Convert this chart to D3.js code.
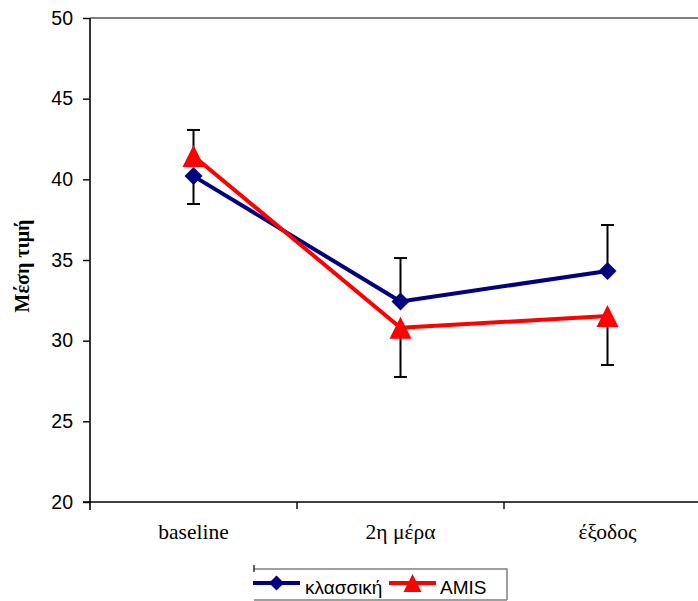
<!DOCTYPE html>
<html>
<head>
<meta charset="utf-8">
<script src="https://cdn.jsdelivr.net/npm/d3@7"></script>
<style>
  html, body { margin: 0; padding: 0; background: #fff; }
  svg { display: block; }
</style>
</head>
<body>
<svg id="chart" width="698" height="601"></svg>
<script>
// Time points and mean scores for the two groups
const categories = ["baseline", "2η μέρα", "έξοδος"];
const classicValues = [40.2, 32.43, 34.32];
const amisValues = [41.45, 30.8, 31.53];
// Error bar half-lengths (drawn away from the other group)
const classicErrors = [1.73, 2.69, 2.85];
const amisErrors = [1.61, 3.05, 3.04];
const yTicks = [20, 25, 30, 35, 40, 45, 50];
const seriesNames = ["κλασσική", "AMIS"];

const svg = d3.select("#chart");

const x = d3.scaleBand().domain(categories).range([90, 711]).padding(0);
const y = d3.scaleLinear().domain([20, 50]).range([502, 18]);

// Top frame line of the plot area
svg.append("line")
  .attr("x1", 90).attr("x2", 698)
  .attr("y1", y(50)).attr("y2", y(50))
  .attr("stroke", "#808080").attr("stroke-width", 2);

// Y axis
const yAxis = svg.append("g")
  .attr("transform", "translate(90,0)")
  .call(d3.axisLeft(y).tickValues(yTicks).tickSize(7).tickPadding(10).tickSizeOuter(0));
yAxis.select(".domain").attr("stroke", "#000").attr("stroke-width", 1.6)
  .attr("d", `M0,${y(50)}V${y(20) + 8}`);
yAxis.selectAll(".tick line").attr("stroke", "#000").attr("stroke-width", 1.4);
yAxis.selectAll(".tick text")
  .attr("font-family", "Liberation Sans, Arial, sans-serif")
  .attr("font-size", 19.5).attr("fill", "#000");

// X axis with ticks on category boundaries
const xAxis = svg.append("g")
  .attr("transform", `translate(0,${y(20)})`)
  .call(d3.axisBottom(x).tickSize(0).tickPadding(22).tickSizeOuter(0));
xAxis.select(".domain").attr("stroke", "#000").attr("stroke-width", 1.6)
  .attr("d", `M83,0H698`);
xAxis.selectAll(".tick text")
  .attr("font-family", "Liberation Serif, Times New Roman, serif")
  .attr("font-size", 21.5).attr("fill", "#000");
xAxis.selectAll(".boundary")
  .data(categories.slice(1))
  .join("line")
  .attr("class", "boundary")
  .attr("x1", d => x(d)).attr("x2", d => x(d))
  .attr("y1", 0).attr("y2", 7)
  .attr("stroke", "#000").attr("stroke-width", 1.4);

// Y axis title
svg.append("text")
  .attr("transform", `translate(29,${(y(20) + y(50)) / 2 + 6}) rotate(-90)`)
  .attr("text-anchor", "middle")
  .attr("font-family", "Liberation Serif, Times New Roman, serif")
  .attr("font-weight", "bold")
  .attr("font-size", 20)
  .text("Μέση τιμή");

const cx = d => x(d) + x.bandwidth() / 2;

// Marker shapes
const diamondPath = (w, h) => `M0,${-h}L${w},0L0,${h}L${-w},0Z`;
const trianglePath = (s) => `M0,${-s}L${s},${s}L${-s},${s}Z`;

const series = [
  { name: seriesNames[0], values: classicValues, errors: classicErrors, other: amisValues,
    color: "#000080", marker: diamondPath(9, 9) },
  { name: seriesNames[1], values: amisValues, errors: amisErrors, other: classicValues,
    color: "#FF0000", marker: trianglePath(11) }
];

// Error bars
const errG = svg.append("g");
series.forEach(s => {
  categories.forEach((c, i) => {
    const v = s.values[i];
    const end = v >= s.other[i] ? v + s.errors[i] : v - s.errors[i];
    errG.append("line")
      .attr("x1", cx(c)).attr("x2", cx(c))
      .attr("y1", y(v)).attr("y2", y(end))
      .attr("stroke", "#000").attr("stroke-width", 2);
    errG.append("line")
      .attr("x1", cx(c) - 6.5).attr("x2", cx(c) + 6.5)
      .attr("y1", y(end)).attr("y2", y(end))
      .attr("stroke", "#000").attr("stroke-width", 2);
  });
});

// Lines and markers
const line = d3.line().x((d, i) => cx(categories[i])).y(d => y(d));
series.forEach(s => {
  svg.append("path")
    .attr("d", line(s.values))
    .attr("fill", "none")
    .attr("stroke", s.color)
    .attr("stroke-width", 4)
    .attr("stroke-linejoin", "round");
  svg.append("g").selectAll("path")
    .data(s.values)
    .join("path")
    .attr("transform", (d, i) => `translate(${cx(categories[i])},${y(d)})`)
    .attr("d", s.marker)
    .attr("fill", s.color);
});

// Legend
const legend = svg.append("g");
legend.append("path")
  .attr("d", "M254,569H507V600")
  .attr("fill", "none").attr("stroke", "#808080").attr("stroke-width", 1.5);
legend.append("line")
  .attr("x1", 254).attr("x2", 254).attr("y1", 565).attr("y2", 572)
  .attr("stroke", "#000").attr("stroke-width", 1.2);
legend.append("line")
  .attr("x1", 254).attr("x2", 507).attr("y1", 600).attr("y2", 600)
  .attr("stroke", "#808080").attr("stroke-width", 1.5);

const legendItems = [
  { s: series[0], x0: 253, x1: 300, tx: 305 },
  { s: series[1], x0: 389, x1: 436, tx: 440 }
];
legendItems.forEach(item => {
  const ly = 583;
  legend.append("line")
    .attr("x1", item.x0).attr("x2", item.x1)
    .attr("y1", ly).attr("y2", ly)
    .attr("stroke", item.s.color).attr("stroke-width", 4);
  legend.append("path")
    .attr("transform", `translate(${(item.x0 + item.x1) / 2},${ly})`)
    .attr("d", item.s === series[0] ? diamondPath(7.5, 7.5) : trianglePath(9))
    .attr("fill", item.s.color);
  legend.append("text")
    .attr("x", item.tx).attr("y", 594)
    .attr("font-family", "Liberation Sans, Arial, sans-serif")
    .attr("font-size", 19)
    .text(item.s.name);
});
</script>
</body>
</html>
